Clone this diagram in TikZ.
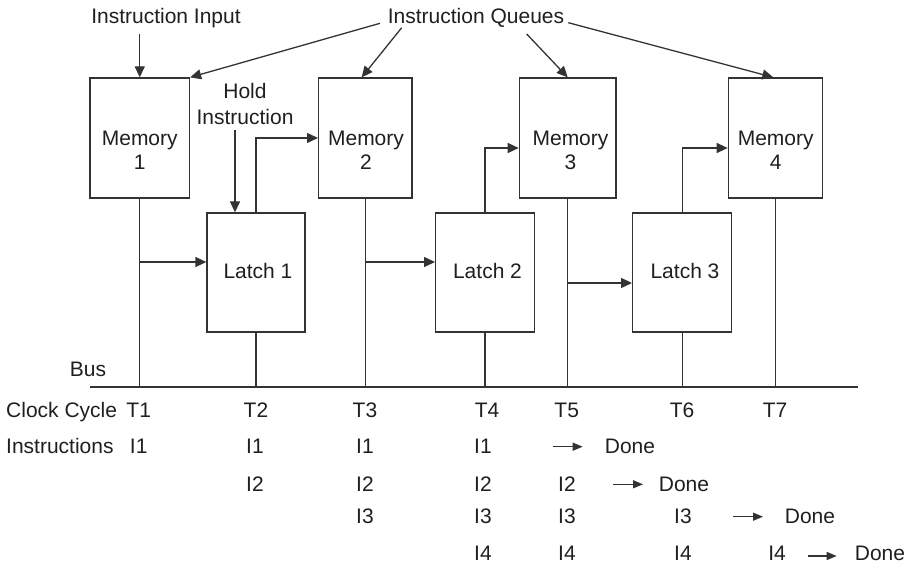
\documentclass[tikz,border=0pt]{standalone}
\usepackage{fontspec}
\setmainfont{Liberation Sans}
\usetikzlibrary{arrows.meta}
\begin{document}
\begin{tikzpicture}[x=1pt,y=-1pt,
  ink/.style={draw=black!80,line width=1.3pt},
  box/.style={ink,rectangle,inner sep=0pt,minimum height=120pt},
  lbl/.style={text=black!88,inner sep=0pt,anchor=base,font=\fontsize{21}{25}\selectfont},
  lblw/.style={lbl,anchor=base west},
  arr/.style={ink,-{Triangle[length=11pt,width=10pt]}},
  sarr/.style={ink,-{Triangle[length=10pt,width=8pt]}}]
\useasboundingbox (0,0) rectangle (911,569);

% memories and latches
\node[box,minimum width=99.5pt] (m1) at (139.75,138) {};
\node[box,minimum width=93.3pt] (m2) at (365.3,138) {};
\node[box,minimum width=96.7pt] (m3) at (567.7,138) {};
\node[box,minimum width=94pt]   (m4) at (775.3,138) {};
\node[box,minimum width=98pt,minimum height=119pt] (l1) at (256,272.5) {};
\node[box,minimum width=98.6pt,minimum height=119pt] (l2) at (485,272.5) {};
\node[box,minimum width=99pt,minimum height=119pt] (l3) at (682.2,272.5) {};

\node[lbl] (m1a) at (139.75,145.7) {Memory};
\node[lbl] (m1b) at (139.75,170) {1};
\node[lbl] (m2a) at (366,145.7) {Memory};
\node[lbl] (m2b) at (366,170) {2};
\node[lbl] (m3a) at (570.5,145.7) {Memory};
\node[lbl] (m3b) at (570.5,170) {3};
\node[lbl] (m4a) at (775.7,145.7) {Memory};
\node[lbl] (m4b) at (775.7,170) {4};
\node[lbl] (l1t) at (258,279) {Latch 1};
\node[lbl] (l2t) at (487.5,279) {Latch 2};
\node[lbl] (l3t) at (685,279) {Latch 3};

% top labels
\node[lbl] (inp) at (166,24) {Instruction Input};
\node[lbl] (que) at (476,24) {Instruction Queues};
\node[lbl] (hold1) at (245,99) {Hold};
\node[lbl] (hold2) at (245,125) {Instruction};
\node[lbl] (bus) at (88,376.7) {Bus};

% input arrows
\coordinate (ii) at (139.75,34);
\draw[arr] (ii) -- (m1.north);
\coordinate (hi) at (235,130);
\draw[arr] (hi) -- (hi |- l1.north);
\coordinate (q1) at (380,23.3);
\coordinate (q2) at (401.7,27.7);
\coordinate (q3) at (526.7,34);
\coordinate (q4) at (568.3,22.7);
\draw[arr] (q1) -- (m1.north east);
\draw[arr] (q2) -- ([xshift=-3.6pt]m2.north);
\draw[arr] (q3) -- (m3.north);
\draw[arr] (q4) -- ([xshift=-2pt]m4.north);

% bus and drops
\coordinate (busL) at (90,387);
\coordinate (busR) at (858,387);
\draw[ink] (busL) -- (busR);
\foreach \n in {m1,l1,m2,l2,m3,l3,m4}
  \draw[ink] (\n.south) -- (\n.south |- busL);

% memory -> latch
\coordinate (j1) at (139.75,262);
\coordinate (j2) at (365.3,262);
\coordinate (j3) at (567.7,283);
\draw[arr] (j1) -- (j1 -| l1.west);
\draw[arr] (j2) -- (j2 -| l2.west);
\draw[arr] (j3) -- (j3 -| l3.west);

% latch -> next memory
\draw[arr] (l1.north) |- (m2.west);
\draw[arr] (l2.north) |- ([yshift=-10pt]m3.west);
\draw[arr] (l3.north) |- ([yshift=-10pt]m4.west);

% timing table
\node[lblw] (cc) at (6,417.7) {Clock Cycle};
\node[lbl] (t1) at (138.7,417.7) {T1};
\node[lbl] (t2) at (256,417.7) {T2};
\node[lbl] (t3) at (365,417.7) {T3};
\node[lbl] (t4) at (487,417.7) {T4};
\node[lbl] (t5) at (566.7,417.7) {T5};
\node[lbl] (t6) at (682,417.7) {T6};
\node[lbl] (t7) at (775,417.7) {T7};

\node[lblw] (ins) at (6,453.5) {Instructions};
% row 1
\node[lbl] (a1) at (138.7,453.5) {I1};
\node[lbl] (a2) at (255,453.5) {I1};
\node[lbl] (a3) at (365,453.5) {I1};
\node[lbl] (a4) at (483,453.5) {I1};
\coordinate (a5) at (552.7,446.7);
\coordinate (a6) at (582.7,446.7);
\draw[sarr] (a5) -- (a6);
\node[lbl] (ad) at (630,453.5) {Done};
% row 2
\node[lbl] (b2) at (255,491) {I2};
\node[lbl] (b3) at (365,491) {I2};
\node[lbl] (b4) at (483,491) {I2};
\node[lbl] (b5) at (567,491) {I2};
\coordinate (b6) at (613,484.3);
\coordinate (b7) at (643,484.3);
\draw[sarr] (b6) -- (b7);
\node[lbl] (bd) at (684,491) {Done};
% row 3
\node[lbl] (c3) at (365,523.5) {I3};
\node[lbl] (c4) at (483,523.5) {I3};
\node[lbl] (c5) at (567,523.5) {I3};
\node[lbl] (c6) at (683,523.5) {I3};
\coordinate (c7) at (733,516.7);
\coordinate (c8) at (763,516.7);
\draw[sarr] (c7) -- (c8);
\node[lbl] (cd) at (810,523.5) {Done};
% row 4
\node[lbl] (d4) at (483,560.5) {I4};
\node[lbl] (d5) at (567,560.5) {I4};
\node[lbl] (d6) at (683,560.5) {I4};
\node[lbl] (d7) at (777,560.5) {I4};
\coordinate (d8) at (807.7,556);
\coordinate (d9) at (836.7,556);
\draw[sarr] (d8) -- (d9);
\node[lbl] (dd) at (880,560.5) {Done};
\end{tikzpicture}
\end{document}
